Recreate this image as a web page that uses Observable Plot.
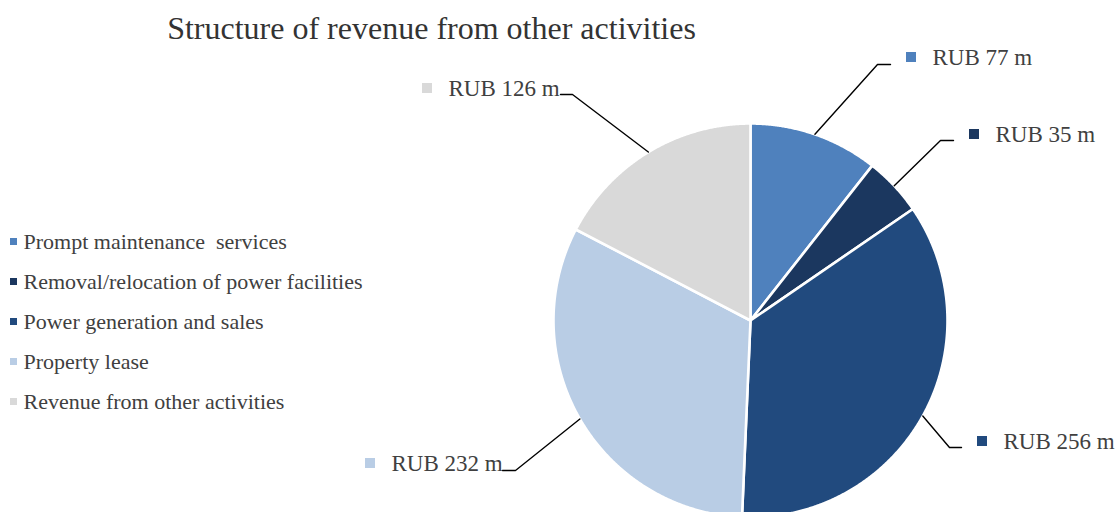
<!DOCTYPE html>
<html><head><meta charset="utf-8">
<script src="https://cdn.jsdelivr.net/npm/d3@7"></script>
<script src="https://cdn.jsdelivr.net/npm/@observablehq/plot@0.6"></script>
<style>
html,body{margin:0;padding:0;background:#fff;overflow:hidden}
#chart svg{display:block}
#chart svg text{font-family:'Liberation Serif','Times New Roman',serif}
</style>
</head><body><div id="chart"></div>
<script>
// ---- data ----
const categories = ["Prompt maintenance\u00A0 services", "Removal/relocation of power facilities", "Power generation and sales", "Property lease", "Revenue from other activities"];
const values = [77, 35, 256, 232, 126];
const valueLabels = ["RUB 77 m", "RUB 35 m", "RUB 256 m", "RUB 232 m", "RUB 126 m"];
const colors = ["#4F81BD", "#1B375F", "#214A7E", "#B9CDE5", "#D9D9D9"];
const title = "Structure of revenue from other activities";

// ---- layout (pixels) ----
const W = 1118, H = 512, cx = 750, cy = 320, R = 197;
// leader elbow, leader end, label square centre
const labelLayout = [
  {elbow: [877, 64], end: [890, 64], sq: [911, 57]},
  {elbow: [940, 140], end: [953, 140], sq: [974, 134]},
  {elbow: [949, 447], end: [961, 447], sq: [982, 441]},
  {elbow: [515, 470], end: [502, 470], sq: [370, 463]},
  {elbow: [572, 94], end: [560, 94], sq: [427, 88]}
];
const textColor = "#404040";
const font = "'Liberation Serif', 'Times New Roman', serif";

const arcs = d3.pie().sort(null).value(d => d)(values);
const pt = (a, r) => [cx + r * Math.sin(a), cy - r * Math.cos(a)];

// slice polygons
const slicePts = [];
arcs.forEach((a, i) => {
  slicePts.push({k: i, x: cx, y: cy, c: colors[i]});
  const n = Math.max(4, Math.ceil((a.endAngle - a.startAngle) / 0.005));
  for (let j = 0; j <= n; j++) {
    const t = a.startAngle + (a.endAngle - a.startAngle) * j / n;
    const [x, y] = pt(t, R);
    slicePts.push({k: i, x, y, c: colors[i]});
  }
  slicePts.push({k: i, x: cx, y: cy, c: colors[i]});
});

// leader lines
const leaderPts = [];
arcs.forEach((a, i) => {
  const mid = (a.startAngle + a.endAngle) / 2;
  const [x0, y0] = pt(mid, R);
  const L = labelLayout[i];
  leaderPts.push({k: i, x: x0, y: y0}, {k: i, x: L.elbow[0], y: L.elbow[1]}, {k: i, x: L.end[0], y: L.end[1]});
});

const labelRows = values.map((v, i) => ({
  text: valueLabels[i], c: colors[i], x: labelLayout[i].sq[0], y: labelLayout[i].sq[1]
}));
const legendRows = categories.map((c, i) => ({text: c, c: colors[i], x: 13.5, y: 241.5 + i * 40}));

const sq = (s) => ({
  x1: d => d.x - s / 2, x2: d => d.x + s / 2, y1: d => d.y - s / 2, y2: d => d.y + s / 2
});

const chart = Plot.plot({
  width: W, height: H, margin: 0,
  x: {type: "identity", axis: null},
  y: {type: "identity", axis: null},
  style: {fontFamily: font, background: "white", overflow: "hidden"},
  marks: [
    Plot.line(slicePts, {x: "x", y: "y", z: "k", fill: "c", stroke: "white", strokeWidth: 2.6, strokeLinejoin: "round", curve: "linear"}),
    Plot.line(leaderPts, {x: "x", y: "y", z: "k", stroke: "black", strokeWidth: 1.4, curve: "linear"}),
    Plot.rect(labelRows, {...sq(10), fill: "c"}),
    Plot.text(labelRows, {x: d => d.x + 21, y: "y", text: "text", textAnchor: "start", lineAnchor: "middle", fontSize: 23, fontFamily: font, fill: textColor}),
    Plot.rect(legendRows, {...sq(7), fill: "c"}),
    Plot.text(legendRows, {x: d => d.x + 9.5, y: "y", text: "text", textAnchor: "start", lineAnchor: "middle", fontSize: 22, fontFamily: font, fill: textColor}),
    Plot.text([title], {x: () => 431, y: () => 28, text: d => d, textAnchor: "middle", lineAnchor: "middle", fontSize: 32, fontFamily: font, fill: "#333333"})
  ]
});
document.getElementById("chart").append(chart);
</script>
</body></html>
